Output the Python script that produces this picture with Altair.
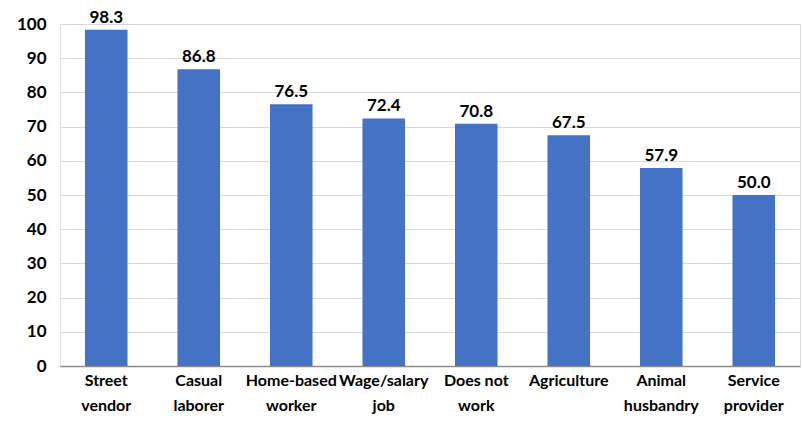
import altair as alt
import pandas as pd

categories = ["Street vendor", "Casual laborer", "Home-based worker", "Wage/salary job",
              "Does not work", "Agriculture", "Animal husbandry", "Service provider"]
label_lines = ["Street|vendor", "Casual|laborer", "Home-based|worker", "Wage/salary|job",
               "Does not|work", "Agriculture", "Animal|husbandry", "Service|provider"]
values = [98.3, 86.8, 76.5, 72.4, 70.8, 67.5, 57.9, 50.0]
y_ticks = list(range(0, 101, 10))

df = pd.DataFrame({"cat": label_lines, "value": values,
                   "txt": [f"{v:.1f}" for v in values]})

FONT = "Lato"

x = alt.X("cat:N", sort=None, title=None,
          scale=alt.Scale(paddingInner=0.54, paddingOuter=0.27),
          axis=alt.Axis(labelExpr="split(datum.label, '|')", labelAngle=0,
                        labelFont=FONT, labelFontWeight="bold", labelFontSize=16,
                        labelColor="#000000", labelPadding=14, labelLineHeight=25,
                        ticks=False, domainColor="#8c8c8c", domainWidth=1.5,
                        grid=False, labelBaseline="middle", labelOverlap=False))
y = alt.Y("value:Q", title=None,
          scale=alt.Scale(domain=[0, 100], nice=False),
          axis=alt.Axis(values=y_ticks, tickCount=11, labelFont=FONT, labelFontWeight="bold",
                        labelFontSize=17, labelColor="#000000", labelPadding=14,
                        labelOverlap=False, labelFlush=False,
                        ticks=False, domain=False, gridColor="#d9d9d9", gridWidth=1))

bars = alt.Chart(df).mark_bar(color="#4472C4").encode(x=x, y=y)
text = alt.Chart(df).mark_text(baseline="bottom", dy=-3, font=FONT, fontWeight="bold",
                               fontSize=17, color="#000000").encode(
    x=alt.X("cat:N", sort=None), y="value:Q", text="txt:N")

chart = (bars + text).properties(
    width=740, height=342,
    autosize=alt.AutoSizeParams(type="none"),
    padding={"left": 60, "top": 24, "right": 2, "bottom": 62},
).configure_view(stroke=None).configure(background="#ffffff")

chart.save("out.html", embed_options={"renderer": "svg", "actions": False})
